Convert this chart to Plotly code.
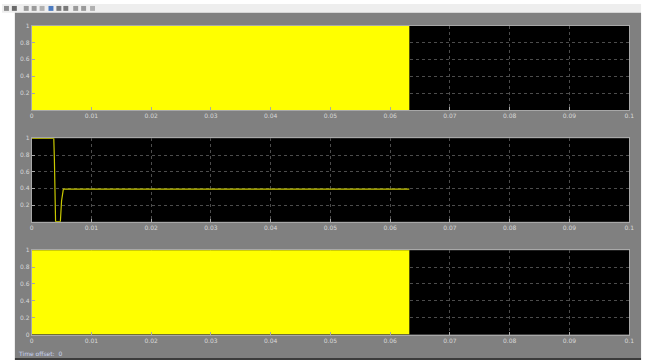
import plotly.graph_objects as go

W, H = 653, 363

# Time axis ticks and labels
x_ticks = [0, 0.01, 0.02, 0.03, 0.04, 0.05, 0.06, 0.07, 0.08, 0.09, 0.1]
x_labels = ["0", "0.01", "0.02", "0.03", "0.04", "0.05", "0.06", "0.07", "0.08", "0.09", "0.1"]
y_ticks = [0, 0.2, 0.4, 0.6, 0.8, 1]
y_labels = ["0", "0.2", "0.4", "0.6", "0.8", "1"]

# Simulation stop time
t_stop = 0.0632

# Channel 1: switching signal (fills 0..1 densely)
gate1_t = [0, t_stop]
gate1_hi = [1, 1]

# Channel 2: duty / control signal
duty_t = [0, 0.0037, 0.0038, 0.0040, 0.0048, 0.0050, 0.0053, t_stop]
duty_v = [1, 1, 0.75, 0, 0, 0.25, 0.39, 0.39]

# Channel 3: switching signal
gate3_t = [0, t_stop]
gate3_hi = [1, 1]

def px_x(px):
    return px / W

def px_y(py):
    return 1 - py / H

x0, x1 = px_x(30), px_x(634)
panels = [(22, 108), (137, 222), (251, 337)]

fig = go.Figure()

yellow = "#ffff00"
fig.add_trace(go.Scatter(x=gate1_t, y=gate1_hi, mode="lines", fill="tozeroy",
                         fillcolor=yellow, line=dict(color=yellow, width=1),
                         xaxis="x", yaxis="y", showlegend=False))
fig.add_trace(go.Scatter(x=duty_t, y=duty_v, mode="lines",
                         line=dict(color="#c8c800", width=1.2),
                         xaxis="x2", yaxis="y2", showlegend=False))
fig.add_trace(go.Scatter(x=gate3_t, y=gate3_hi, mode="lines", fill="tozeroy",
                         fillcolor=yellow, line=dict(color=yellow, width=1),
                         xaxis="x3", yaxis="y3", showlegend=False))

tick_font = dict(family="DejaVu Sans", size=6, color="#d8d8d8")
layout = dict(
    width=W, height=H,
    margin=dict(l=0, r=0, t=0, b=0),
    paper_bgcolor="white",
    plot_bgcolor="black",
    showlegend=False,
)

for i, (top, bot) in enumerate(panels):
    sfx = "" if i == 0 else str(i + 1)
    yv = y_ticks if i == 2 else y_ticks[1:]
    yl = y_labels if i == 2 else y_labels[1:]
    common = dict(
        tickfont=tick_font,
        showgrid=True, gridcolor="#4c4c4c", griddash="dot", gridwidth=1,
        showline=True, linecolor="#a8a8a8", linewidth=1, mirror=True,
        ticks="inside", ticklen=3, tickcolor="#a8a8a8",
        zeroline=False, fixedrange=True,
    )
    layout["xaxis" + sfx] = dict(
        domain=[x0, x1], range=[0, 0.1], anchor="y" + sfx,
        tickvals=x_ticks, ticktext=x_labels, **common,
    )
    layout["yaxis" + sfx] = dict(
        domain=[px_y(bot), px_y(top)], range=[0, 1], anchor="x" + sfx,
        tickvals=yv, ticktext=yl, **common,
    )

shapes = [
    # toolbar strip
    dict(type="rect", xref="paper", yref="paper", x0=0, x1=px_x(646),
         y0=px_y(9), y1=1, fillcolor="#eeeeee", line=dict(width=0), layer="below"),
    # scope window body
    dict(type="rect", xref="paper", yref="paper", x0=px_x(13), x1=px_x(646),
         y0=px_y(361), y1=px_y(9), fillcolor="#808080", line=dict(width=0), layer="below"),
    dict(type="rect", xref="paper", yref="paper", x0=px_x(13), x1=px_x(646),
         y0=0, y1=px_y(361), fillcolor="#3c3c3c", line=dict(width=0), layer="below"),
]
# black axes backgrounds
for top, bot in panels:
    shapes.append(dict(type="rect", xref="paper", yref="paper",
                       x0=x0, x1=x1, y0=px_y(bot), y1=px_y(top),
                       fillcolor="black", line=dict(width=0), layer="below"))
# toolbar buttons
for bx, col in [(2, "#8a8a8a"), (10, "#6a6a6a"), (22, "#9a9a9a"), (30, "#9a9a9a"),
                (38, "#b0b0b0"), (47, "#4a7ac0"), (55, "#7a7a7a"), (62, "#7a7a7a"),
                (72, "#9a9a9a"), (80, "#9a9a9a"), (89, "#b0b0b0")]:
    shapes.append(dict(type="rect", xref="paper", yref="paper",
                       x0=px_x(bx), x1=px_x(bx + 5), y0=px_y(7), y1=px_y(2),
                       fillcolor=col, line=dict(width=0), layer="below"))
layout["shapes"] = shapes

layout["annotations"] = [
    dict(text="Time offset:  0", xref="paper", yref="paper",
         x=px_x(14), y=px_y(356), xanchor="left", yanchor="middle",
         showarrow=False, font=dict(family="DejaVu Sans", size=6, color="#c8d4f0")),
]

fig.update_layout(**layout)
fig.write_html("out.html")
